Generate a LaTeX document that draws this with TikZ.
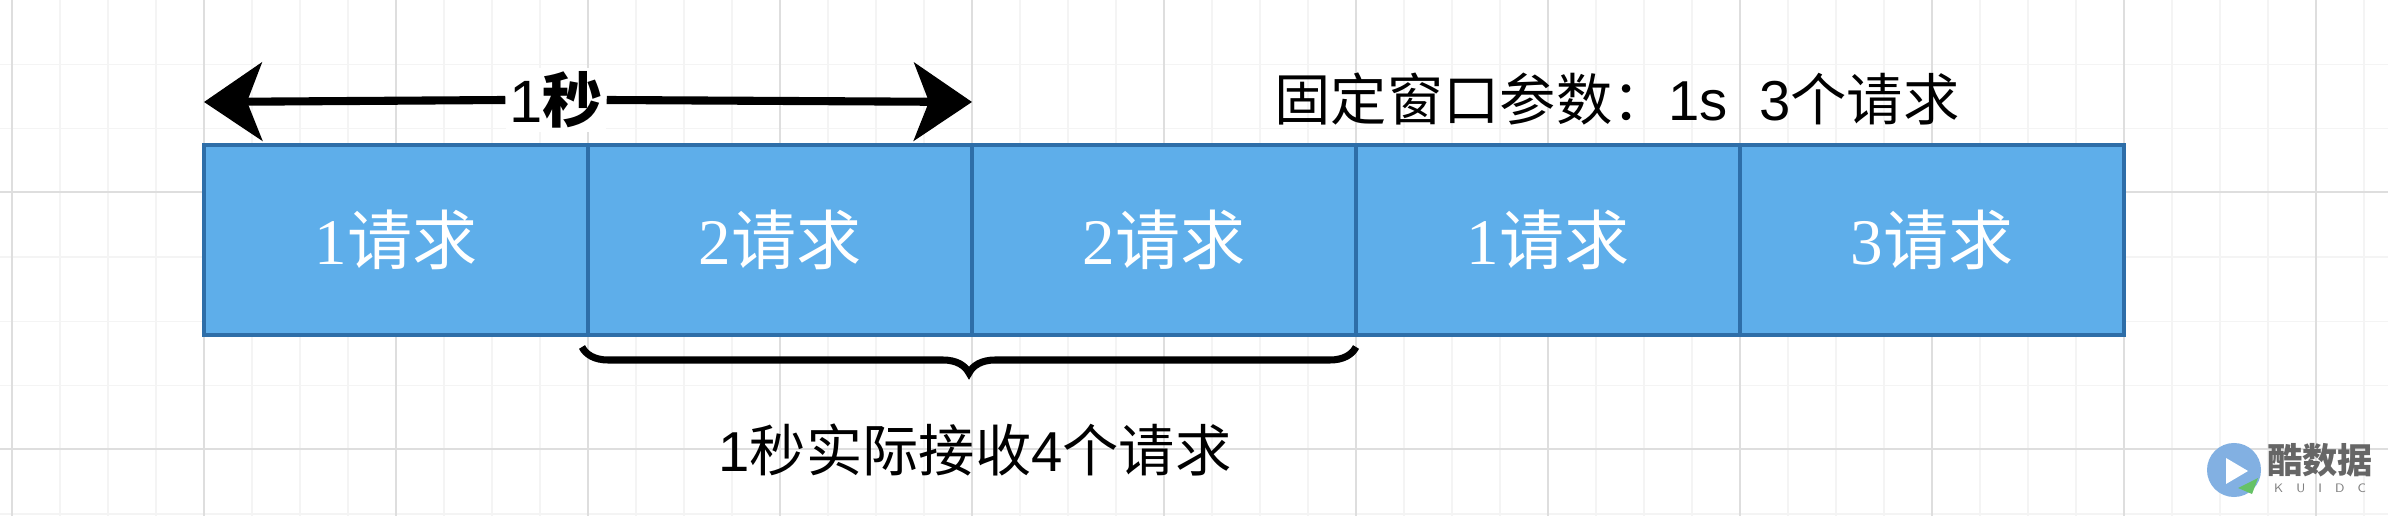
\documentclass[tikz,border=0pt]{standalone}
\usepackage{fontspec}
\setmainfont{Liberation Serif}
\newfontfamily\cjk{Noto Sans CJK SC}
\usetikzlibrary{arrows.meta,decorations.pathreplacing}
\definecolor{boxfill}{RGB}{94,174,234}
\definecolor{boxline}{RGB}{46,110,168}
\definecolor{gminor}{RGB}{244,244,244}
\definecolor{gmajor}{RGB}{222,222,222}
\tikzset{
  cell/.style={draw=boxline,fill=boxfill,line width=1.1pt,minimum width=3.84cm,minimum height=1.9cm,inner sep=0pt,text=white,font=\fontsize{18.5}{22}\selectfont},
  lbl/.style={font=\cjk\fontsize{16}{19}\selectfont,text=black,inner sep=1pt},
}
\begin{document}
\begin{tikzpicture}[x=0.01cm,y=-0.01cm]
\useasboundingbox (0,0) rectangle (2388,516);
\fill[white] (0,0) rectangle (2388,516);
\foreach \i in {0,...,49} {\draw[gminor,line width=0.4pt] (12+48*\i,0) -- (12+48*\i,516);}
\foreach \i in {1,...,8} {\draw[gminor,line width=0.4pt] (0,64.25*\i) -- (2388,64.25*\i);}
\foreach \i in {0,...,12} {\draw[gmajor,line width=0.4pt] (12+192*\i,0) -- (12+192*\i,516);}
\foreach \i in {1,2} {\draw[gmajor,line width=0.4pt] (0,-65+257*\i) -- (2388,-65+257*\i);}
% cells
\node[cell] (c1) at (396,240) {1{\cjk 请求}};
\node[cell] (c2) at (780,240) {2{\cjk 请求}};
\node[cell] (c3) at (1164,240) {2{\cjk 请求}};
\node[cell] (c4) at (1548,240) {1{\cjk 请求}};
\node[cell] (c5) at (1932,240) {3{\cjk 请求}};
% arrow
\node[lbl,fill=white,inner sep=1pt,font=\fontsize{17}{20}\selectfont] (sec) at (556,100) {{\fontspec{Liberation Sans}1}{\cjk\bfseries 秒}};
\coordinate (al) at (204,102);
\coordinate (ar) at (972,102);
\draw[line width=2.3pt,-{Stealth[length=0.58cm,width=0.78cm,inset=0.15cm]}] (sec.west) -- (al);
\draw[line width=2.3pt,-{Stealth[length=0.58cm,width=0.78cm,inset=0.15cm]}] (sec.east) -- (ar);
\node[lbl,font=\cjk\fontsize{16}{19}\selectfont] (param) at (1617,99) {固定窗口参数：{\fontspec{Liberation Sans}1s\ \ 3}个请求};
% brace
\coordinate (bl) at (582,347);
\coordinate (br) at (1356,347);
\draw[line width=2pt,decorate,decoration={brace,mirror,amplitude=0.26cm,aspect=0.5}] (bl) -- (br);
\node[lbl] (recv) at (975,450) {{\fontspec{Liberation Sans}1}秒实际接收{\fontspec{Liberation Sans}4}个请求};
% watermark
\fill[cyan!60!blue!50] (2234,470) circle (0.27cm);
\fill[white] (2226,458) -- (2226,484) -- (2248,471) -- cycle;
\fill[green!60!black!60] (2238,488) -- (2258,478) -- (2252,494) -- cycle;
\node[font=\cjk\bfseries\fontsize{10}{12}\selectfont,text=gray!80!black,inner sep=0pt] (wm) at (2320,460) {酷数据};
\node[font=\sffamily\fontsize{3.5}{4}\selectfont,text=gray,inner sep=0pt] (wm2) at (2320,488) {K\ \ \ U\ \ \ I\ \ \ D\ \ \ C};
\end{tikzpicture}
\end{document}
